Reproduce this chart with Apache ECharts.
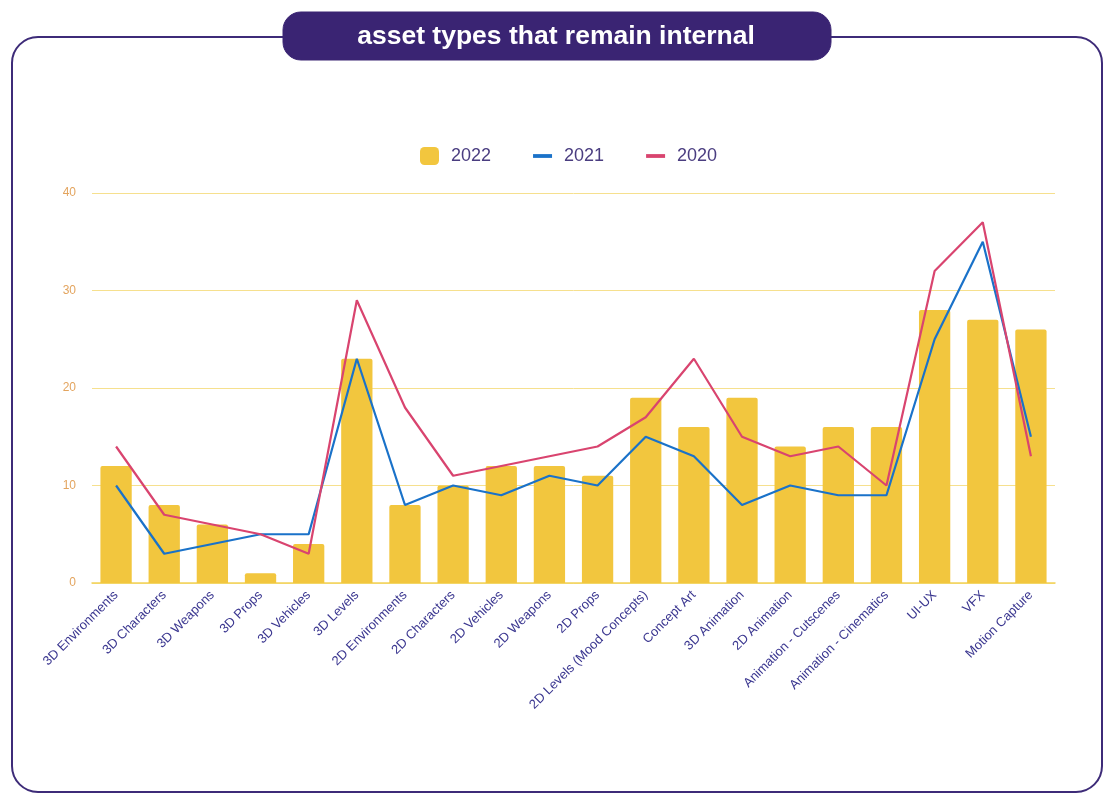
<!DOCTYPE html>
<html>
<head>
<meta charset="utf-8">
<script src="https://cdn.jsdelivr.net/npm/echarts@6/dist/echarts.min.js"></script>
<style>
html,body{margin:0;padding:0;background:#fff;}
#c{width:1120px;height:809px;}
</style>
</head>
<body>
<div id="c"></div>
<script>
var categories = ["3D Environments","3D Characters","3D Weapons","3D Props","3D Vehicles","3D Levels","2D Environments","2D Characters","2D Vehicles","2D Weapons","2D Props","2D Levels (Mood Concepts)","Concept Art","3D Animation","2D Animation","Animation - Cutscenes","Animation - Cinematics","UI-UX","VFX","Motion Capture"];
var values2022 = [12,8,6,1,4,23,8,10,12,12,11,19,16,19,14,16,16,28,27,26];
var values2021 = [10,3,4,5,5,23,8,10,9,11,10,15,13,8,10,9,9,25,35,15];
var values2020 = [14,7,6,5,3,29,18,11,12,13,14,17,23,15,13,14,10,32,37,13];
var yTicks = [0,10,20,30,40];

var chart = echarts.init(document.getElementById('c'), null, {renderer:'canvas'});
var option = {
  animation:false,
  backgroundColor:'#ffffff',
  graphic:[
    {type:'rect', shape:{x:12,y:37,width:1090,height:755,r:26}, style:{fill:'none',stroke:'#3d2b78',lineWidth:2}, z:0},
    {type:'rect', shape:{x:283,y:12,width:548,height:48,r:18}, style:{fill:'#3a2473',stroke:'#3a2473'}, z:10},
    {type:'text', x:556, y:37, style:{text:'asset types that remain internal', fill:'#ffffff', font:'bold 26.5px "Liberation Sans", Arial, sans-serif', textAlign:'center', textVerticalAlign:'middle'}, z:11}
  ],
  legend:{
    top:142, left:415,
    itemGap:42, itemWidth:19, itemHeight:18,
    textStyle:{color:'#4a3d80', fontSize:18, fontFamily:'"Liberation Sans", Arial, sans-serif', padding:[0,0,0,7]},
    data:[
      {name:'2022', icon:'roundRect'},
      {name:'2021', icon:'path://M0,0 L20,0 L20,4 L0,4 Z'},
      {name:'2020', icon:'path://M0,0 L20,0 L20,4 L0,4 Z'}
    ]
  },
  grid:{left:92, right:65, top:193, bottom:226, containLabel:false},
  xAxis:{
    type:'category', data:categories,
    axisLine:{show:true, lineStyle:{color:'#f2d25a', width:1.5}},
    axisTick:{show:false},
    axisLabel:{rotate:45, interval:0, color:'#3b3790', fontSize:13, fontFamily:'"Liberation Sans", Arial, sans-serif', margin:10}
  },
  yAxis:{
    type:'value', min:yTicks[0], max:yTicks[yTicks.length-1], interval:10,
    axisLine:{show:false}, axisTick:{show:false},
    axisLabel:{color:'#e3a45e', fontSize:12, fontFamily:'"Liberation Sans", Arial, sans-serif', margin:16},
    splitLine:{lineStyle:{color:'#f6e08e', width:1}}
  },
  series:[
    {name:'2022', type:'bar', data:values2022, barCategoryGap:'35%', itemStyle:{color:'#f2c63e', borderRadius:[2,2,0,0]}, z:2},
    {name:'2021', type:'line', data:values2021, symbol:'none', lineStyle:{color:'#1a72c9', width:2.2}, itemStyle:{color:'#1a72c9'}, z:3},
    {name:'2020', type:'line', data:values2020, symbol:'none', lineStyle:{color:'#d9446f', width:2.2}, itemStyle:{color:'#d9446f'}, z:4}
  ]
};
chart.setOption(option);
</script>
</body>
</html>
